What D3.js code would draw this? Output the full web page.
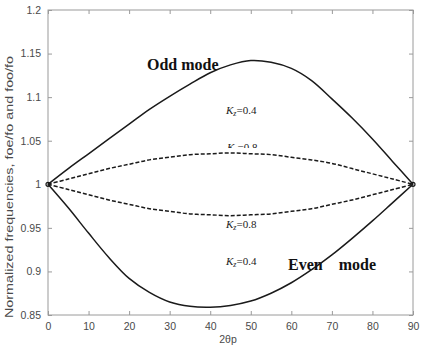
<!DOCTYPE html>
<html>
<head>
<meta charset="utf-8">
<script src="https://cdn.jsdelivr.net/npm/d3@7"></script>
<style>
  body { margin: 0; background: #fff; }
  svg { display: block; }
</style>
</head>
<body>
<div id="chart"></div>
<script>
// angle 2θp in degrees
const angles = [0, 5, 10, 15, 20, 25, 30, 35, 40, 45, 50, 55, 60, 65, 70, 75, 80, 85, 90];
// Kz = 0.4, odd and even mode (solid)
const oddK04  = [1.000, 1.018, 1.035, 1.052, 1.069, 1.086, 1.101, 1.115, 1.128, 1.137, 1.142, 1.140, 1.133, 1.119, 1.098, 1.076, 1.052, 1.026, 1.000];
const evenK04 = [1.000, 0.973, 0.944, 0.916, 0.892, 0.876, 0.865, 0.860, 0.859, 0.861, 0.866, 0.875, 0.887, 0.902, 0.919, 0.938, 0.958, 0.979, 1.000];
// Kz = 0.8, odd and even mode (dashed)
const oddK08  = [1.000, 1.006, 1.012, 1.018, 1.023, 1.028, 1.031, 1.034, 1.035, 1.036, 1.035, 1.034, 1.031, 1.028, 1.024, 1.018, 1.012, 1.006, 1.000];
const evenK08 = [1.000, 0.994, 0.988, 0.982, 0.977, 0.972, 0.969, 0.966, 0.965, 0.964, 0.965, 0.966, 0.969, 0.972, 0.977, 0.982, 0.988, 0.994, 1.000];

const xTicks = [0, 10, 20, 30, 40, 50, 60, 70, 80, 90];
const yTicks = [0.85, 0.9, 0.95, 1, 1.05, 1.1, 1.15, 1.2];
const yTickLabels = ['0.85', '0.9', '0.95', '1', '1.05', '1.1', '1.15', '1.2'];

const width = 421, height = 347;
const plotLeft = 48, plotRight = 413, plotTop = 10, plotBottom = 315;

const svg = d3.select('#chart')
  .append('svg')
  .attr('width', width)
  .attr('height', height);

const x = d3.scaleLinear().domain([0, 90]).range([plotLeft, plotRight]);
const y = d3.scaleLinear().domain([0.85, 1.2]).range([plotBottom, plotTop]);

const axisColor = '#9a9a9a';
const labelColor = '#4a4a4a';

// frame
svg.append('rect')
  .attr('x', plotLeft).attr('y', plotTop)
  .attr('width', plotRight - plotLeft).attr('height', plotBottom - plotTop)
  .attr('fill', 'none')
  .attr('stroke', axisColor)
  .attr('stroke-width', 1);

// axes with inward ticks
const styleAxis = g => {
  g.select('.domain').remove();
  g.selectAll('.tick line').attr('stroke', axisColor);
  g.selectAll('.tick text')
    .attr('fill', labelColor)
    .attr('font-family', 'Liberation Sans, Arial, sans-serif')
    .attr('font-size', '10.5px');
};

svg.append('g')
  .attr('transform', `translate(0,${plotBottom})`)
  .call(d3.axisBottom(x).tickValues(xTicks).tickSizeInner(-4).tickSizeOuter(0).tickPadding(8))
  .call(styleAxis);

svg.append('g')
  .attr('transform', `translate(0,${plotTop})`)
  .call(d3.axisTop(x).tickValues(xTicks).tickSizeInner(-4).tickSizeOuter(0).tickFormat(''))
  .call(styleAxis);

svg.append('g')
  .attr('transform', `translate(${plotLeft},0)`)
  .call(d3.axisLeft(y).tickValues(yTicks).tickSizeInner(-4).tickSizeOuter(0).tickPadding(7)
    .tickFormat((d, i) => yTickLabels[i]))
  .call(styleAxis);

svg.append('g')
  .attr('transform', `translate(${plotRight},0)`)
  .call(d3.axisRight(y).tickValues(yTicks).tickSizeInner(-4).tickSizeOuter(0).tickFormat(''))
  .call(styleAxis);

// axis titles
svg.append('text')
  .attr('x', 228).attr('y', 343)
  .attr('text-anchor', 'middle')
  .attr('fill', labelColor)
  .attr('font-family', 'Liberation Sans, Arial, sans-serif')
  .attr('font-size', '10.5px')
  .text('2θp');

svg.append('text')
  .attr('transform', 'translate(13,187) rotate(-90)')
  .attr('text-anchor', 'middle')
  .attr('fill', labelColor)
  .attr('font-family', 'Liberation Sans, Arial, sans-serif')
  .attr('font-size', '10.5px')
  .attr('textLength', 262)
  .attr('lengthAdjust', 'spacingAndGlyphs')
  .text('Normalized frequencies, foe/fo and foo/fo');

// annotations (drawn under the curves)
const serif = 'Liberation Serif, Times New Roman, serif';

svg.append('text')
  .attr('x', 147).attr('y', 70)
  .attr('font-family', serif)
  .attr('font-weight', 'bold')
  .attr('font-size', '16px')
  .attr('fill', '#111')
  .text('Odd mode');

svg.append('text')
  .attr('x', 288).attr('y', 270)
  .attr('font-family', serif)
  .attr('font-weight', 'bold')
  .attr('font-size', '16px')
  .attr('fill', '#111')
  .attr('xml:space', 'preserve')
  .text('Even    mode');

const kLabel = (px, py, val, clip) => {
  const t = svg.append('text')
    .attr('x', px).attr('y', py)
    .attr('font-family', serif)
    .attr('font-size', '11px')
    .attr('fill', '#222');
  if (clip) t.attr('clip-path', `url(#${clip})`);
  t.append('tspan').attr('font-style', 'italic').text('K');
  t.append('tspan').attr('font-style', 'italic').attr('font-size', '8px').attr('dy', 2).text('z');
  t.append('tspan').attr('dy', -2).text('=' + val);
};

// the upper Kz=0.8 label is half hidden behind the dashed curve
svg.append('defs').append('clipPath').attr('id', 'kclip')
  .append('rect').attr('x', 0).attr('y', 0).attr('width', width).attr('height', 148);

kLabel(226, 114, '0.4');
kLabel(227, 151, '0.8', 'kclip');
kLabel(226, 228, '0.8');
kLabel(226, 265, '0.4');

// curves
const line = d3.line()
  .x((d, i) => x(angles[i]))
  .y(d => y(d))
  .curve(d3.curveCatmullRom);

const series = [
  { values: oddK04, dash: null },
  { values: evenK04, dash: null },
  { values: oddK08, dash: '4,2' },
  { values: evenK08, dash: '4,2' }
];

svg.append('g')
  .selectAll('path')
  .data(series)
  .join('path')
  .attr('d', d => line(d.values))
  .attr('fill', 'none')
  .attr('stroke', '#1a1a1a')
  .attr('stroke-width', 1.5)
  .attr('stroke-dasharray', d => d.dash);

// common end points
svg.append('g')
  .selectAll('circle')
  .data([0, angles.length - 1])
  .join('circle')
  .attr('cx', i => x(angles[i]))
  .attr('cy', i => y(oddK04[i]))
  .attr('r', 2)
  .attr('fill', 'none')
  .attr('stroke', '#1a1a1a')
  .attr('stroke-width', 1.2);
</script>
</body>
</html>
